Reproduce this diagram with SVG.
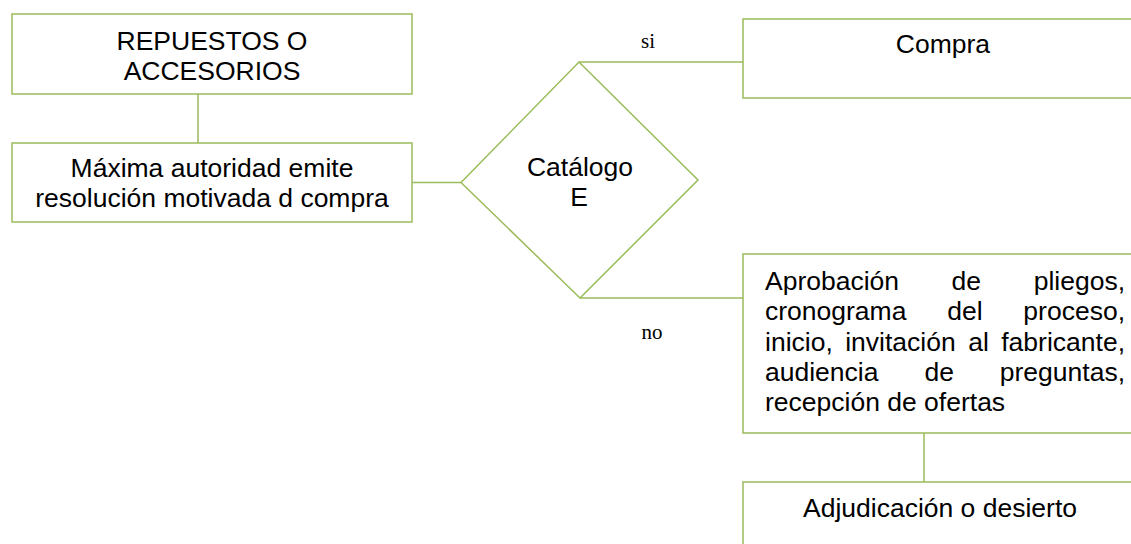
<svg xmlns="http://www.w3.org/2000/svg" width="1131" height="544" viewBox="0 0 1131 544">
<style>
.box{fill:#fff;stroke:#9BBB59;stroke-width:1.5}
.ln{fill:none;stroke:#9BBB59;stroke-width:1.5}
.t{font-family:"Liberation Sans",Arial,sans-serif;font-size:26.5px;fill:#000}
.c{text-anchor:middle}
.s{font-family:"Liberation Serif","Times New Roman",serif;font-size:21px;fill:#000;text-anchor:middle}
</style>
<rect width="1131" height="544" fill="#fff"/>
<g id="connectors">
<line class="ln" x1="198" y1="94" x2="198" y2="143"/>
<line class="ln" x1="412" y1="182.5" x2="461" y2="182.5"/>
<line class="ln" x1="579" y1="62" x2="743" y2="62"/>
<line class="ln" x1="580" y1="298" x2="743" y2="298"/>
<line class="ln" x1="924" y1="433" x2="924" y2="482"/>
<text class="s" x="648" y="48">si</text>
<text class="s" x="652" y="339">no</text>
</g>
<g id="n1">
<rect class="box" x="12" y="14" width="400" height="80"/>
<text class="t c" x="212" y="50">REPUESTOS O</text>
<text class="t c" x="212" y="80">ACCESORIOS</text>
</g>
<g id="n2">
<rect class="box" x="12" y="143" width="400" height="79"/>
<text class="t c" x="212" y="177">Máxima autoridad emite</text>
<text class="t c" x="212" y="207">resolución motivada d compra</text>
</g>
<g id="decision">
<polygon class="box" points="461,182.5 579,62 698,180 580,298"/>
<text class="t c" x="580" y="175.5">Catálogo</text>
<text class="t c" x="579" y="206">E</text>
</g>
<g id="compra">
<rect class="box" x="743" y="19" width="400" height="79"/>
<text class="t c" x="943" y="53">Compra</text>
</g>
<g id="proceso">
<rect class="box" x="743" y="254" width="400" height="179"/>
<text class="t" y="289.5"><tspan x="765">Aprobación</tspan><tspan x="951.6">de</tspan><tspan x="1125" text-anchor="end">pliegos,</tspan></text>
<text class="t" y="320"><tspan x="765">cronograma</tspan><tspan x="947.2">del</tspan><tspan x="1125" text-anchor="end">proceso,</tspan></text>
<text class="t" y="350.5"><tspan x="765">inicio,</tspan><tspan x="845.2">invitación</tspan><tspan x="968.2">al</tspan><tspan x="1125" text-anchor="end">fabricante,</tspan></text>
<text class="t" y="381"><tspan x="765">audiencia</tspan><tspan x="924.4">de</tspan><tspan x="1125" text-anchor="end">preguntas,</tspan></text>
<text class="t" x="765" y="411">recepción de ofertas</text>
</g>
<g id="adjudicacion">
<rect class="box" x="743" y="482" width="400" height="80"/>
<text class="t c" x="940" y="517">Adjudicación o desierto</text>
</g>
</svg>
